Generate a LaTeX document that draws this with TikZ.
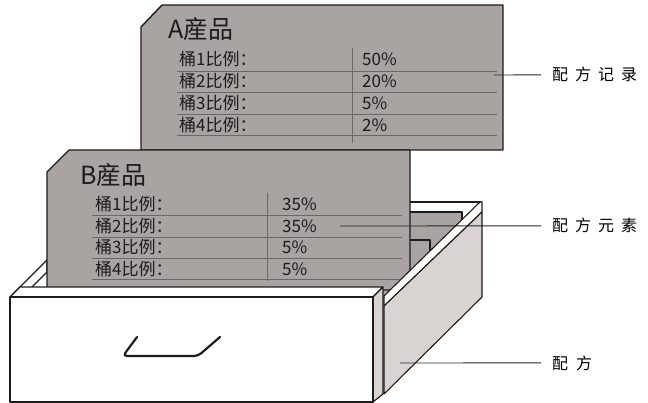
\documentclass[tikz,border=0pt]{standalone}
\usepackage{fontspec}
\setmainfont{Noto Sans CJK SC}
\usetikzlibrary{positioning}

\definecolor{cardgray}{RGB}{169,163,161}
\definecolor{sidegray}{RGB}{217,212,210}
\definecolor{inkdark}{RGB}{30,27,27}
\definecolor{rulegray}{RGB}{108,102,100}

\tikzset{
  card/.style={fill=cardgray, draw=inkdark, line width=1.4pt, line join=round},
  panel/.style={fill=white, draw=inkdark, line width=1.1pt, line join=round},
  side/.style={fill=sidegray, draw=inkdark, line width=1.1pt, line join=round},
  sep/.style={draw=rulegray, line width=0.6pt},
  rowtxt/.style={inner sep=0pt, anchor=base west, text=inkdark, font=\fontsize{17}{17}\selectfont},
  ttl/.style={inner sep=0pt, anchor=base west, text=inkdark, font=\fontsize{25}{25}\selectfont},
  lbl/.style={anchor=base west, inner xsep=11pt, inner ysep=0pt, font=\fontsize{16}{16}\selectfont},
  leader/.style={draw=black!85, line width=0.9pt}
}

\begin{document}
\begin{tikzpicture}[x=1pt, y=-1pt]
    \useasboundingbox (0,0) rectangle (648,403);

    % drawer back wall and the cards standing behind B
    \fill[white] (300,202) rectangle (482,300);
    \draw[line width=1.1pt, draw=inkdark] (300,202) -- (482,202);
    \draw[card, line width=1.1pt] (300,300) |- (462,212) -- (462,300);
    \draw[card, line width=1.1pt] (300,300) |- (430,240) -- (430,300);

    % left wall rim
    \draw[panel] (12,295) -- (47,260) -- (47,272) -- (32,287) -- cycle;

    % card A
    \draw[card] (162,5) -- (503,5) -- (503,150) -- (141,150) -- (141,27) -- cycle;
    \node[ttl] (a-title) at (168,39) {A産品};
    \foreach \y in {71,92,114,135}
    \draw[sep] (177,\y) -- (497,\y);
    \draw[sep] (352,48) -- (352,143);
    \foreach \y/\v [count=\i] in {66/50,88/20,110/5,132/2} {
    \node[rowtxt] (a-k\i) at (179,\y) {桶\i 比例：};
    \node[rowtxt] (a-v\i) at (362,\y) {\v\%};
    }

    % card B
    \draw[card] (69,150) -- (410,150) -- (410,290) -- (47,290) -- (47,172) -- cycle;
    \node[ttl] (b-title) at (80,185) {B産品};
    \foreach \y in {215,237,258,279}
    \draw[sep] (92,\y) -- (402,\y);
    \draw[sep] (267,193) -- (267,281);
    \foreach \y/\v [count=\i] in {211/35,233/35,254/5,276/5} {
    \node[rowtxt] (b-k\i) at (95,\y) {桶\i 比例：};
    \node[rowtxt] (b-v\i) at (282,\y) {\v\%};
    }

    % right wall: rim and outer face
    \draw[panel] (384,296) -- (480,202) -- (482,202) -- (482,212) -- (384,306) -- cycle;
    \draw[side] (384,306) -- (482,212) -- (482,297) -- (384,394) -- cycle;

    % front panel with handle
    \draw[panel] (10,297) -- (20,287) -- (383,287) -- (373,297) -- cycle;
    \draw[side] (373,297) -- (383,287) -- (383,394) -- (373,402) -- cycle;
    \draw[panel] (10,297) rectangle (373,402);
    \draw[line width=2.2pt, draw=inkdark, rounded corners=4pt, line cap=round]
    (137,337) -- (123,356) -- (198,356) -- (220,337);

    % labels
    \node[lbl] (rec) at (541,81) {配\hspace{7pt}方\hspace{7pt}记\hspace{7pt}录};
    \node[lbl] (ele) at (541,232) {配\hspace{7pt}方\hspace{7pt}元\hspace{7pt}素};
    \node[lbl] (drw) at (541,369) {配\hspace{8pt}方};
    \coordinate (rec-end) at (494,75);
    \coordinate (ele-end) at (340,226);
    \coordinate (drw-end) at (400,363);
    \draw[leader] (rec.west) -- (rec-end);
    \draw[leader] (ele.west) -- (ele-end);
    \draw[leader] (drw.west) -- (drw-end);

\end{tikzpicture}
\end{document}
